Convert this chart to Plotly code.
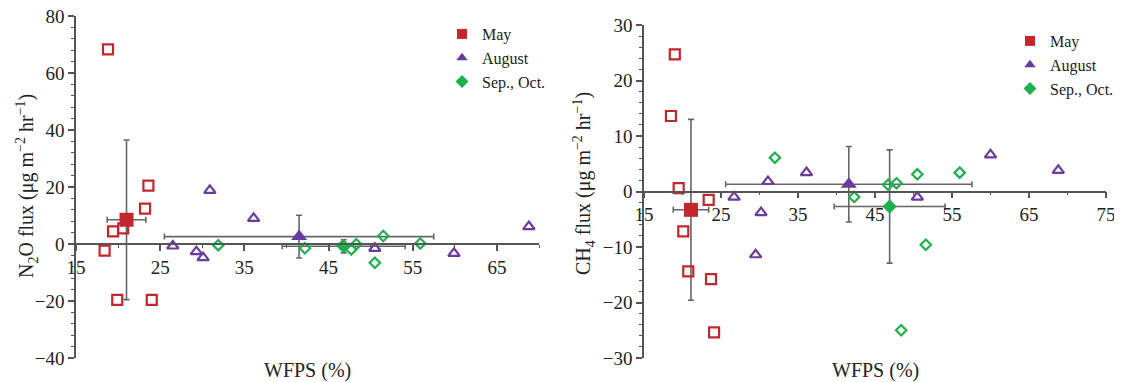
import plotly.graph_objects as go

# ---------------- data ----------------
# N2O panel
n2o_may_x = [18.8, 18.4, 19.4, 20.6, 19.9, 23.6, 23.2, 24.0]
n2o_may_y = [68.3, -2.3, 4.4, 5.5, -19.6, 20.5, 12.4, -19.6]
n2o_aug_x = [26.5, 29.3, 30.1, 30.9, 36.1, 50.5, 59.9, 68.8]
n2o_aug_y = [-0.7, -2.7, -4.8, 18.8, 9.0, -1.5, -3.3, 6.1]
n2o_sep_x = [31.9, 42.2, 46.7, 47.7, 48.3, 51.5, 50.5, 55.9]
n2o_sep_y = [-0.4, -1.5, -0.6, -1.9, -0.1, 2.8, -6.6, 0.2]
n2o_mean_x = [21.0, 41.5, 46.8]
n2o_mean_y = [8.5, 2.6, -0.8]
n2o_err_x = [2.3, 16.0, 7.3]
n2o_err_y = [28.0, 7.5, 2.3]

# CH4 panel
ch4_may_x = [19.0, 18.5, 19.5, 20.1, 20.75, 23.4, 23.7, 24.1]
ch4_may_y = [24.7, 13.6, 0.6, -7.2, -14.4, -1.5, -15.8, -25.4]
ch4_aug_x = [26.7, 29.5, 30.2, 31.1, 36.1, 50.5, 60.0, 68.8]
ch4_aug_y = [-1.0, -11.4, -3.8, 1.8, 3.4, -1.0, 6.6, 3.8]
ch4_sep_x = [32.0, 42.3, 46.7, 47.8, 50.5, 56.0, 51.6, 48.4]
ch4_sep_y = [6.1, -1.0, 1.2, 1.5, 3.1, 3.4, -9.6, -25.0]
ch4_mean_x = [21.1, 41.6, 46.9]
ch4_mean_y = [-3.3, 1.3, -2.7]
ch4_err_x = [2.3, 16.0, 7.2]
ch4_err_y = [16.3, 6.8, 10.2]

groups = ["May", "August", "Sep., Oct."]
colors = ["#C1272D", "#6A3A9C", "#1FB04E"]
open_symbols = ["square-open", "triangle-up-open", "diamond-open"]
filled_symbols = ["square", "triangle-up", "diamond"]

W, H = 1122, 382
OFF = 8  # page body margin in the browser
FONT = "Liberation Serif, Times New Roman, serif"
AXC = "#555555"
TXT = "#222222"

# pixel layout (screen coordinates) of the two plot areas
L = dict(x0=76, x1=539, y0=16, y1=358)
R = dict(x0=644, x1=1106, y0=25, y1=358)


def px(x):
    return (x - OFF) / W


def py(y):
    return (H - (y - OFF)) / H


def dom_x(p):
    return [px(p["x0"]), px(p["x1"])]


def dom_y(p):
    return [py(p["y1"]), py(p["y0"])]


fig = go.Figure()

panels = [
    dict(xa="x", ya="y", leg="legend",
         pts=[(n2o_may_x, n2o_may_y), (n2o_aug_x, n2o_aug_y), (n2o_sep_x, n2o_sep_y)],
         mx=n2o_mean_x, my=n2o_mean_y, ex=n2o_err_x, ey=n2o_err_y),
    dict(xa="x2", ya="y2", leg="legend2",
         pts=[(ch4_may_x, ch4_may_y), (ch4_aug_x, ch4_aug_y), (ch4_sep_x, ch4_sep_y)],
         mx=ch4_mean_x, my=ch4_mean_y, ex=ch4_err_x, ey=ch4_err_y),
]

open_sizes = [10, 10, 8]
mean_sizes = [14, 14, 11]
for pnl in panels:
    # error bars of the means
    for i in range(3):
        fig.add_trace(go.Scatter(
            x=[pnl["mx"][i]], y=[pnl["my"][i]], mode="markers",
            xaxis=pnl["xa"], yaxis=pnl["ya"], showlegend=False,
            marker=dict(size=1, color="rgba(0,0,0,0)"),
            error_x=dict(type="data", array=[pnl["ex"][i]], color="#666666", thickness=1.6, width=3),
            error_y=dict(type="data", array=[pnl["ey"][i]], color="#666666", thickness=1.6, width=3),
        ))
    # individual observations
    for i in range(3):
        xs, ys = pnl["pts"][i]
        fig.add_trace(go.Scatter(
            x=xs, y=ys, mode="markers", xaxis=pnl["xa"], yaxis=pnl["ya"], showlegend=False,
            marker=dict(symbol=open_symbols[i], size=open_sizes[i], color=colors[i],
                        line=dict(width=2.2, color=colors[i])),
        ))
    # means
    for i in range(3):
        fig.add_trace(go.Scatter(
            x=[pnl["mx"][i]], y=[pnl["my"][i]], mode="markers",
            xaxis=pnl["xa"], yaxis=pnl["ya"], showlegend=False,
            marker=dict(symbol=filled_symbols[i], size=mean_sizes[i], color=colors[i]),
        ))
    # legend entries
    for i in range(3):
        fig.add_trace(go.Scatter(
            x=[None], y=[None], mode="markers", name=groups[i],
            xaxis=pnl["xa"], yaxis=pnl["ya"], legend=pnl["leg"],
            marker=dict(symbol=filled_symbols[i], size=10, color=colors[i]),
        ))

lx_range, ly_range = [15, 70], [-40, 80]
rx_range, ry_range = [15, 75], [-30, 30]


def zero_pos(p, yr):
    d = dom_y(p)
    return d[0] + (0 - yr[0]) / (yr[1] - yr[0]) * (d[1] - d[0])


tickfont = dict(family=FONT, size=19, color=TXT)

common_x = dict(showgrid=False, zeroline=False, showline=True, linecolor=AXC, linewidth=1.6,
                ticks="outside", ticklen=6, tickwidth=1.5, tickcolor=AXC,
                tick0=15, dtick=10, tickfont=tickfont, anchor="free", ticklabeloverflow="allow",
                minor=dict(ticks="outside", ticklen=3, tickcolor=AXC, tickwidth=1.2, dtick=5, tick0=15),
                automargin=False)
common_y = dict(showgrid=False, zeroline=False, showline=True, linecolor=AXC, linewidth=1.6,
                ticks="outside", ticklen=6, tickwidth=1.5, tickcolor=AXC, ticklabeloverflow="allow",
                tickfont=tickfont, automargin=False)

legfont = dict(family=FONT, size=16, color=TXT)

fig.update_layout(
    width=W, height=H,
    margin=dict(l=0, r=0, t=0, b=0),
    paper_bgcolor="white", plot_bgcolor="white",
    font=dict(family=FONT, size=18, color=TXT),
    xaxis=dict(common_x, domain=dom_x(L), range=lx_range, position=zero_pos(L, ly_range)),
    yaxis=dict(common_y, domain=dom_y(L), range=ly_range, anchor="x", tick0=0, dtick=20,
               minor=dict(ticks="outside", ticklen=3, tickcolor=AXC, tickwidth=1.2, dtick=4)),
    xaxis2=dict(common_x, domain=dom_x(R), range=rx_range, position=zero_pos(R, ry_range)),
    yaxis2=dict(common_y, domain=dom_y(R), range=ry_range, anchor="x2", tick0=0, dtick=10,
                minor=dict(ticks="outside", ticklen=3, tickcolor=AXC, tickwidth=1.2, dtick=2)),
    legend=dict(x=px(442), y=py(17), xanchor="left", yanchor="top",
                font=legfont, bgcolor="rgba(0,0,0,0)", tracegroupgap=0, itemwidth=30),
    legend2=dict(x=px(1010), y=py(24), xanchor="left", yanchor="top",
                 font=legfont, bgcolor="rgba(0,0,0,0)", tracegroupgap=0, itemwidth=30),
    annotations=[
        dict(text="WFPS (%)", x=px((L["x0"] + L["x1"]) / 2), y=py(370), xref="paper", yref="paper",
             showarrow=False, font=dict(family=FONT, size=20, color=TXT), xanchor="center", yanchor="middle"),
        dict(text="WFPS (%)", x=px((R["x0"] + R["x1"]) / 2), y=py(370), xref="paper", yref="paper",
             showarrow=False, font=dict(family=FONT, size=20, color=TXT), xanchor="center", yanchor="middle"),
        dict(text="N<sub>2</sub>O flux (μg m<sup>−2</sup> hr<sup>−1</sup>)", x=px(27), y=py(186),
             xref="paper", yref="paper", showarrow=False, textangle=-90,
             font=dict(family=FONT, size=20, color=TXT), xanchor="center", yanchor="middle"),
        dict(text="CH<sub>4</sub> flux (μg m<sup>−2</sup> hr<sup>−1</sup>)", x=px(584), y=py(184),
             xref="paper", yref="paper", showarrow=False, textangle=-90,
             font=dict(family=FONT, size=20, color=TXT), xanchor="center", yanchor="middle"),
    ],
)

fig.write_html("out.html")
